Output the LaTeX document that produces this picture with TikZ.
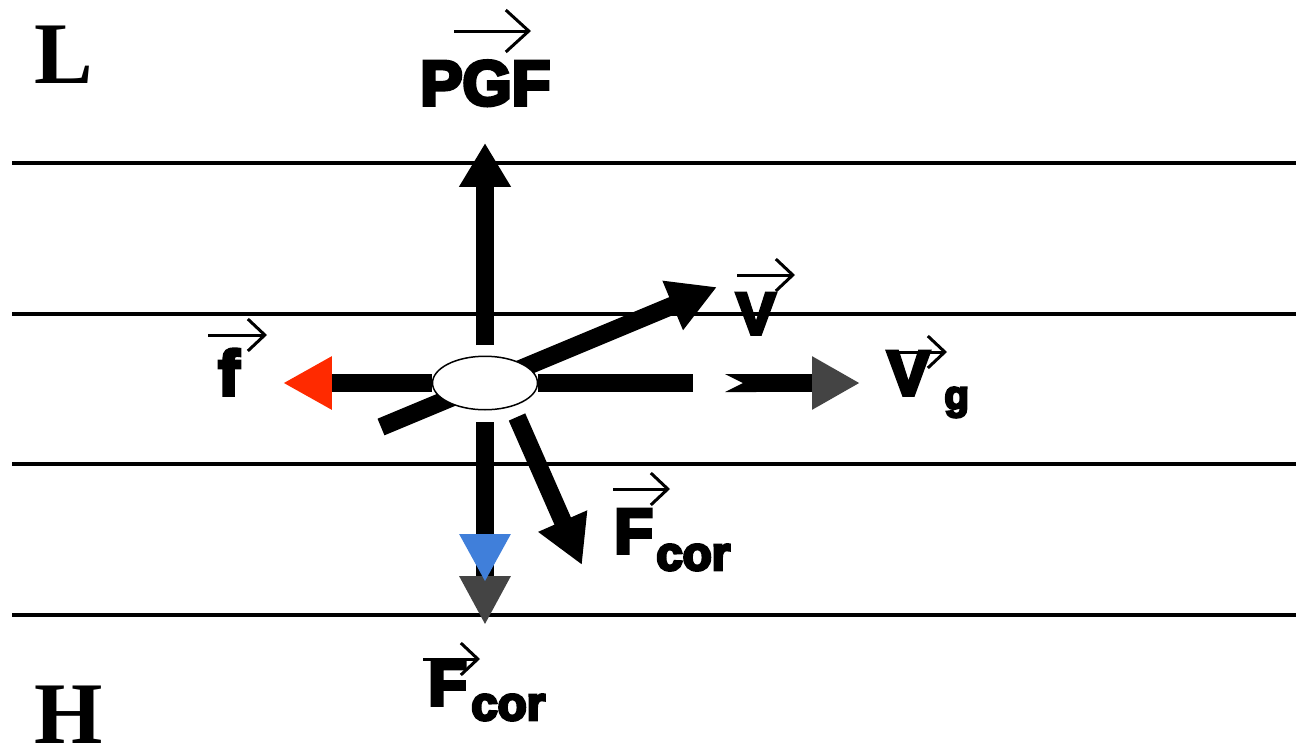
\documentclass[tikz,border=0pt]{standalone}
\usepackage{fontspec}
\usetikzlibrary{arrows.meta,shapes.geometric}
\newfontfamily\lab{Liberation Sans}[UprightFont={* Bold}, FakeBold=6]
\newfontfamily\serifb{Liberation Serif}
\definecolor{fred}{HTML}{FF2A00}
\definecolor{dgray}{HTML}{444444}
\definecolor{cblue}{HTML}{407FDA}
\tikzset{
  rule/.style={line width=0.09cm, black},
  shaft/.style={line width=0.36cm, black},
  head/.style={-{Triangle[length=0.96cm,width=1.0cm]}},
  vecarr/.style={line width=0.06cm, -{Straight Barb[length=0.34cm,width=0.64cm]}},
  lbl/.style={inner sep=0pt, anchor=base west, font=\lab\fontsize{36}{40}\selectfont},
  sublbl/.style={inner sep=0pt, anchor=base west, font=\lab\fontsize{27}{30}\selectfont},
  hl/.style={inner sep=0pt, anchor=base west, font=\serifb\bfseries\fontsize{50}{56}\selectfont},
}
\begin{document}
\begin{tikzpicture}[x=0.02cm,y=-0.02cm]
\useasboundingbox (0,0) rectangle (1296,748);
% isobars
\coordinate (r1a) at (12,163); \coordinate (r1b) at (1296,163);
\coordinate (r2a) at (12,314); \coordinate (r2b) at (1296,314);
\coordinate (r3a) at (12,464); \coordinate (r3b) at (1296,464);
\coordinate (r4a) at (12,615); \coordinate (r4b) at (1296,615);
\draw[rule] (r1a) -- (r1b);
\draw[rule] (r2a) -- (r2b);
\draw[rule] (r3a) -- (r3b);
\draw[rule] (r4a) -- (r4b);
% L and H
\node[hl] (L) at (34,83) {L};
\node[hl] (H) at (34,743) {H};
% V arrow (behind parcel)
\coordinate (vS) at (381,427); \coordinate (vT) at (717,287);
\draw[shaft,head] (vS) -- (vT);
% parcel
\node[ellipse, draw, line width=0.03cm, fill=white, minimum width=2.1cm, minimum height=1.07cm, inner sep=0pt] (parcel) at (485,383) {};
% PGF
\coordinate (pgfS) at (485,345); \coordinate (pgfT) at (485,143);
\draw[shaft,-{Triangle[length=0.88cm,width=0.98cm]}] (pgfS) -- (pgfT);
% friction
\coordinate (fS) at (432,383); \coordinate (fT) at (283,383);
\draw[shaft,-{Triangle[length=0.98cm,width=1.0cm,color=fred]}] (fS) -- (fT);
% right shaft
\coordinate (rS) at (538,383); \coordinate (rT) at (693,383);
\draw[shaft] (rS) -- (rT);
% Vg arrow
\coordinate (gS) at (725,383); \coordinate (gT) at (860,383);
\draw[shaft,{Triangle Cap[reversed,length=0.36cm]}-{Triangle[length=0.96cm,width=1.0cm,color=dgray]}] (gS) -- (gT);
% down arrows
\coordinate (dS) at (485,422); \coordinate (dT) at (485,625); \coordinate (bT) at (485,582);
\draw[shaft,-{Triangle[length=0.98cm,width=0.96cm,color=dgray]}] (dS) -- (dT);
\draw[shaft,-{Triangle[length=0.96cm,width=0.96cm,color=cblue]}] (dS) -- (bT);
% Fcor arrow
\coordinate (cS) at (517,417); \coordinate (cT) at (582,565);
\draw[shaft,head] (cS) -- (cT);
% labels
\node[lbl] (pgf) at (420,105) {PGF};
\coordinate (pgfa) at (454,31); \coordinate (pgfb) at (531,31);
\draw[line width=0.06cm,-{Straight Barb[length=0.46cm,width=0.84cm]}] (pgfa) -- (pgfb);
\node[lbl] (f) at (218,395) {f};
\coordinate (fa) at (208,335); \coordinate (fb) at (267,335);
\draw[vecarr] (fa) -- (fb);
\node[lbl, font=\lab\fontsize{33.5}{38}\selectfont] (v) at (736,334) {V};
\coordinate (va) at (737,275); \coordinate (vb) at (795,275);
\draw[vecarr] (va) -- (vb);
\node[lbl] (vg) at (887,395) {V};
\node[sublbl, font=\lab\fontsize{23}{26}\selectfont] (g) at (944,409) {g};
\coordinate (vga) at (888,352); \coordinate (vgb) at (947,352);
\draw[vecarr] (vga) -- (vgb);
\node[lbl] (F1) at (614,553) {F};
\node[sublbl] (cor1) at (656,570) {cor};
\coordinate (F1a) at (613,489); \coordinate (F1b) at (670,489);
\draw[vecarr] (F1a) -- (F1b);
\node[lbl] (F2) at (428,705) {F};
\node[sublbl] (cor2) at (471,720) {cor};
\coordinate (F2a) at (423,659); \coordinate (F2b) at (480,659);
\draw[vecarr] (F2a) -- (F2b);
\end{tikzpicture}
\end{document}
